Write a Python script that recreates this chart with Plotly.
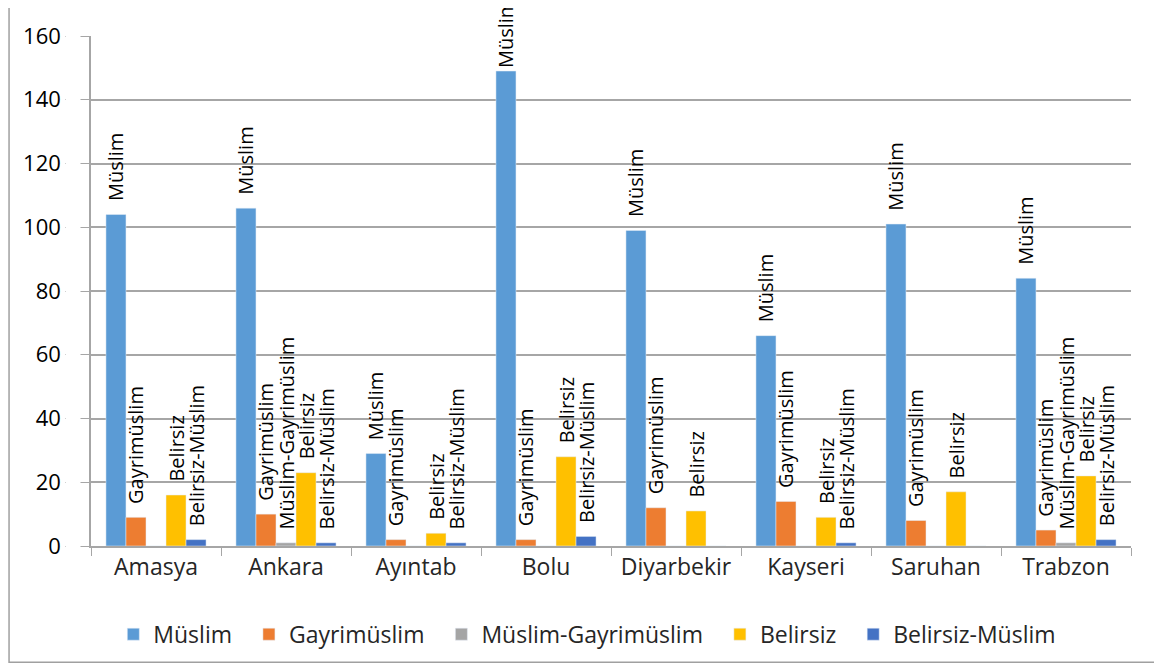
import plotly.graph_objects as go

categories = ["Amasya", "Ankara", "Ayıntab", "Bolu", "Diyarbekir", "Kayseri", "Saruhan", "Trabzon"]
series_names = ["Müslim", "Gayrimüslim", "Müslim-Gayrimüslim", "Belirsiz", "Belirsiz-Müslim"]
muslim = [104, 106, 29, 149, 99, 66, 101, 84]
gayrimuslim = [9, 10, 2, 2, 12, 14, 8, 5]
muslim_gayrimuslim = [0, 1, 0, 0, 0, 0, 0, 1]
belirsiz = [16, 23, 4, 28, 11, 9, 17, 22]
belirsiz_muslim = [2, 1, 1, 3, 0, 1, 0, 2]
colors = ["#5B9BD5", "#ED7D31", "#A5A5A5", "#FFC000", "#4472C4"]
y_ticks = [0, 20, 40, 60, 80, 100, 120, 140, 160]

all_series = [muslim, gayrimuslim, muslim_gayrimuslim, belirsiz, belirsiz_muslim]
FONT = "Open Sans"
Y_MAX = 160

def label(name, v):
    if v <= 0:
        return ""
    # labels of bars reaching near the top sit tight on the bar (no padding)
    pad = "" if v > 0.9 * Y_MAX else "\u00a0\u00a0"
    return pad + name

fig = go.Figure()
for name, vals, col in zip(series_names, all_series, colors):
    fig.add_trace(go.Bar(
        x=categories, y=vals, name=name + "\u00a0\u00a0", marker_color=col,
        text=[label(name, v) for v in vals],
        textposition="outside", textangle=-90, constraintext="none",
        textfont=dict(family=FONT, size=20, color="#000000"),
        cliponaxis=False,
    ))

# page body has an 8px margin: figure coordinates = screen coordinates - 8
fig.update_layout(
    width=1154, height=661,
    paper_bgcolor="white", plot_bgcolor="white",
    margin=dict(l=83, r=31, t=25, b=123),
    barmode="group", bargap=0.23, bargroupgap=0,
    font=dict(family=FONT, color="#404040"),
    legend=dict(orientation="h", x=0.483, xanchor="center", y=-0.173, yanchor="middle",
                font=dict(family=FONT, size=23, color="#262626"), itemwidth=30,
                traceorder="normal"),
    showlegend=True,
    shapes=[
        dict(type="rect", xref="paper", yref="paper", x0=-0.0788, x1=1.025,
             y0=-0.228, y1=1.0565, line=dict(color="#A0A0A0", width=1.5),
             fillcolor="rgba(0,0,0,0)", layer="below"),
        # white gap between the y tick labels and the short tick stubs
        dict(type="rect", xref="paper", yref="paper", x0=-0.0245, x1=-0.0101,
             y0=-0.02, y1=1.02, line=dict(width=0), fillcolor="white", layer="above"),
    ],
)
fig.update_xaxes(showline=True, linecolor="#A6A6A6", linewidth=1.5,
                 ticks="outside", tickson="boundaries", ticklen=8, tickcolor="#A6A6A6",
                 tickfont=dict(family=FONT, size=23, color="#262626"), showgrid=False)
fig.update_yaxes(range=[0, Y_MAX], tickvals=y_ticks,
                 showline=True, linecolor="#A6A6A6",
                 linewidth=1.5, showgrid=True, gridcolor="#A6A6A6", gridwidth=1.5,
                 ticks="outside", ticklen=24, tickcolor="#A6A6A6", zeroline=False,
                 tickfont=dict(family=FONT, size=22, color="#000000"))

fig.write_html("out.html")
